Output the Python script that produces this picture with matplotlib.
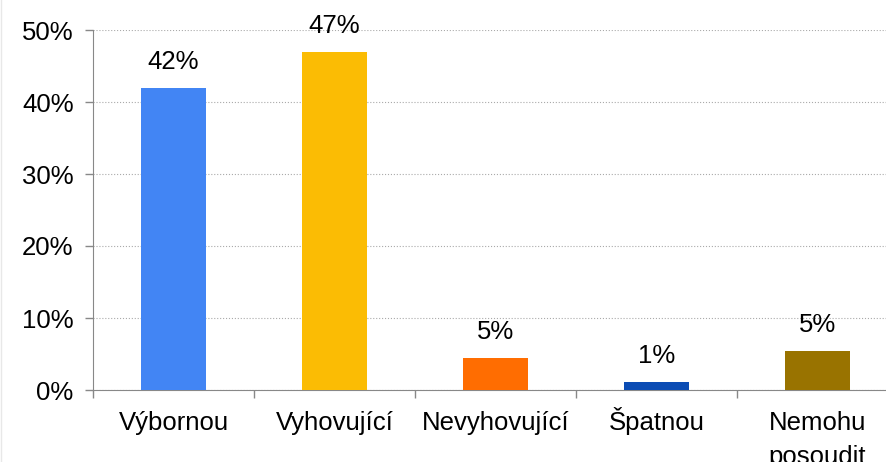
import matplotlib.pyplot as plt
import matplotlib.transforms as mtransforms
from matplotlib.ticker import FixedLocator
from matplotlib.lines import Line2D

plt.rcParams['font.family'] = ['Liberation Sans', 'DejaVu Sans']

categories = ['Výbornou', 'Vyhovující', 'Nevyhovující', 'Špatnou', 'Nemohu\nposoudit']
values = [41.9, 46.9, 4.4, 1.15, 5.4]
labels = ['42%', '47%', '5%', '1%', '5%']
colors = ['#4285F4', '#FBBC04', '#FF6D01', '#0B4CB4', '#997300']

fig = plt.figure(figsize=(8.87, 4.62), dpi=100)
ax = fig.add_axes([93 / 887, 1 - 390 / 462, 805 / 887, 360 / 462])

x = range(len(categories))
ax.bar(x, values, width=0.4, color=colors, zorder=3)
for i, (v, lab) in enumerate(zip(values, labels)):
    ax.annotate(lab, (i, v), xytext=(0, 10), textcoords='offset points',
                ha='center', va='bottom', fontsize=18.5)

ax.set_xlim(-0.5, 4.5)
ax.set_ylim(0, 50)
ax.set_yticks(range(0, 51, 10))
ax.set_yticklabels([f'{t}%' for t in range(0, 51, 10)], fontsize=18.5)
ax.set_xticks(list(x))
ax.set_xticklabels([])
ax.tick_params(axis='x', which='major', length=0)
ax.xaxis.set_minor_locator(FixedLocator([-0.5, 0.5, 1.5, 2.5, 3.5, 4.5]))
ax.tick_params(axis='x', which='minor', length=6, color='#888888', width=1)
ax.tick_params(axis='y', length=6, color='#888888', width=1, pad=8)

# category labels, one text per line so every first line shares a baseline
base = ax.get_xaxis_transform()
for i, cat in enumerate(categories):
    for k, line in enumerate(cat.split('\n')):
        tr = base + mtransforms.ScaledTranslation(0, -(28.8 + 24.5 * k) / 72, fig.dpi_scale_trans)
        ax.text(i, 0, line, transform=tr, ha='center', va='baseline',
                fontsize=18.5, clip_on=False)

ax.grid(axis='y', linestyle=':', color='#aaaaaa', linewidth=0.8, zorder=0)
for s in ['top', 'right']:
    ax.spines[s].set_visible(False)
for s in ['left', 'bottom']:
    ax.spines[s].set_color('#888888')

# faint frame line at the left edge
fig.add_artist(Line2D([1.5 / 887, 1.5 / 887], [0, 1], color='#e8e8e8', linewidth=1))

fig.savefig('out.png', dpi=100)
